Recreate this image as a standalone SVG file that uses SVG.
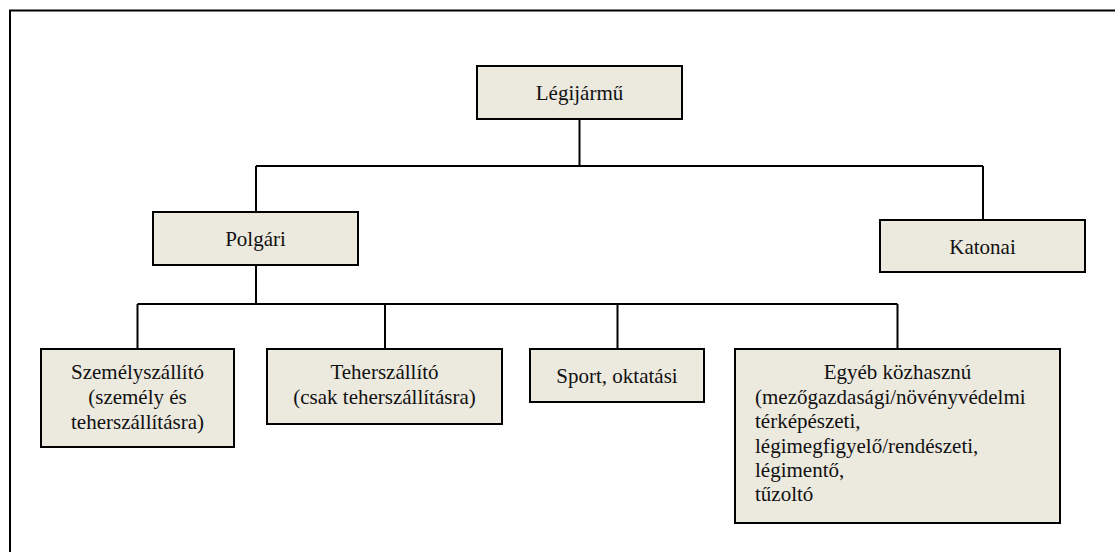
<svg xmlns="http://www.w3.org/2000/svg" width="1115" height="552" viewBox="0 0 1115 552">
<style>
.box{fill:#ECE9DF;stroke:#000;stroke-width:2}
.t{font-family:"Liberation Serif","Times New Roman",serif;font-size:21px;fill:#111}
.c{text-anchor:middle}
.ln{stroke:#000;stroke-width:2;fill:none}
</style>
<rect x="0" y="0" width="1115" height="552" fill="#fff"/>
<rect x="10" y="10.5" width="1200" height="600" fill="none" stroke="#000" stroke-width="2"/>
<g id="connectors">
<path class="ln" d="M579.5 119 V166 M256 166 H983 M256 166 V212 M983 166 V220"/>
<path class="ln" d="M256 265 V304 M137.5 304 H897.5 M137.5 304 V349 M385 304 V349 M617.5 304 V349 M897.5 304 V349"/>
</g>
<g id="n-legijarmu"><rect class="box" x="477" y="66" width="205" height="53"/><text class="t c" x="579.5" y="100">Légijármű</text></g>
<g id="n-polgari"><rect class="box" x="153" y="212" width="205" height="53"/><text class="t c" x="255.5" y="245.5">Polgári</text></g>
<g id="n-katonai"><rect class="box" x="880" y="220" width="205" height="52"/><text class="t c" x="982.5" y="254">Katonai</text></g>
<g id="n-szemely"><rect class="box" x="41" y="349" width="193" height="98"/><text class="t c" x="137.5" y="379">Személyszállító<tspan x="137.5" y="404">(személy és</tspan><tspan x="137.5" y="429">teherszállításra)</tspan></text></g>
<g id="n-teher"><rect class="box" x="267" y="349" width="235" height="75"/><text class="t c" x="384.5" y="379">Teherszállító<tspan x="384.5" y="404">(csak teherszállításra)</tspan></text></g>
<g id="n-sport"><rect class="box" x="530" y="349" width="174" height="53"/><text class="t c" x="617" y="382.5">Sport, oktatási</text></g>
<g id="n-egyeb"><rect class="box" x="735" y="349" width="325" height="174"/><text class="t c" x="897.5" y="379">Egyéb közhasznú</text><text class="t" x="755" y="403.5">(mezőgazdasági/növényvédelmi<tspan x="755" y="428">térképészeti,</tspan><tspan x="755" y="452.5">légimegfigyelő/rendészeti,</tspan><tspan x="755" y="477">légimentő,</tspan><tspan x="755" y="501">tűzoltó</tspan></text></g>
</svg>
